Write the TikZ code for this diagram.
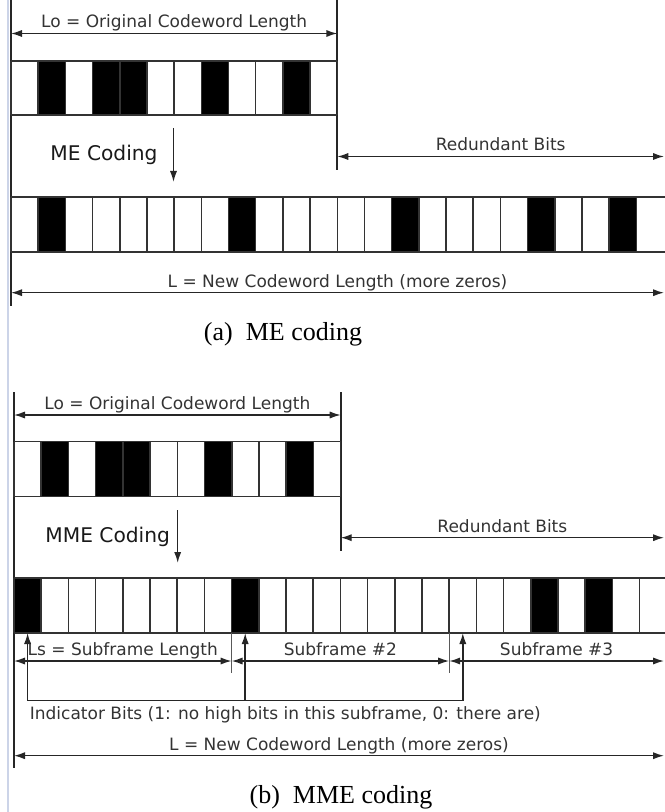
\documentclass[tikz,border=0pt]{standalone}
\usepackage{fontspec}
\setmainfont{Liberation Serif}
\setsansfont{DejaVu Sans}
\usepackage{xcolor}
\usepackage{tikz}
\usetikzlibrary{arrows.meta, positioning}
\definecolor{winedge}{RGB}{204,212,232}

\begin{document}
\begin{tikzpicture}[x=0.5pt, y=-0.5pt,
    cell/.style={black!80, line width=0.75pt},
    bar/.style={black!85, line width=0.9pt},
    tick/.style={black!65, line width=0.5pt},
    dim/.style={black!85, line width=0.7pt, {Latex[length=5.5pt,width=3.6pt]}-{Latex[length=5.5pt,width=3.6pt]}},
    push/.style={black!85, line width=0.75pt, -{Latex[length=5.5pt,width=3.6pt]}},
    txt/.style={font=\sffamily\fontsize{8.5}{10}\selectfont, text=black!80, inner sep=0pt},
    lbl/.style={txt, anchor=base, yshift=2.8pt},
    big/.style={font=\sffamily\fontsize{10.1}{12}\selectfont, text=black!90, inner sep=0pt, anchor=base west},
    captxt/.style={font=\fontsize{13}{15}\selectfont, inner sep=0pt}]
  \useasboundingbox (0,0) rectangle (664,812);
  \draw[winedge, line width=1pt] (8,0) -- (8,812);

  % (a) ME coding
  \coordinate (aTop) at (11,0);
  \coordinate (aBot) at (11,306);
  \coordinate (aMidTop) at (337.3,0);
  \coordinate (aMidBot) at (337.3,170);
  \draw[bar] (aTop) -- (aBot);
  \draw[bar] (aMidTop) -- (aMidBot);
  % original codeword
  \foreach \k in {1,3,4,7,10}
    \fill (11+\k*27.19,61) rectangle ++(27.19,54);
  \foreach \k in {0,...,12}
    \draw[cell] (11+\k*27.19,61) -- ++(0,54);
  \draw[cell] (11,61) -- (337.3,61) (11,115) -- (337.3,115);
  \coordinate (aLoW) at (11,33.5);
  \coordinate (aLoE) at (337.3,33.5);
  \draw[dim] (aLoW) -- node[lbl] (aLoTxt) {Lo = Original Codeword Length} (aLoE);
  % coding step
  \coordinate (aDnS) at (173.5,128);
  \coordinate (aDnE) at (173.5,182);
  \draw[push] (aDnS) -- (aDnE);
  \node[big] (aCode) at (50,161) {ME Coding};
  \coordinate (aRedW) at (337.3,156.5);
  \coordinate (aRedE) at (664,156.5);
  \draw[dim] (aRedW) -- node[lbl] (aRedTxt) {Redundant Bits} (aRedE);
  % new codeword
  \foreach \k in {1,8,14,19,22}
    \fill (11+\k*27.19,197) rectangle ++(27.19,55);
  \foreach \k in {0,...,23}
    \draw[cell] (11+\k*27.19,197) -- ++(0,55);
  \draw[cell] (11,197) -- (670,197) (11,252) -- (670,252);
  \coordinate (aLW) at (11,292.7);
  \coordinate (aLE) at (664,292.7);
  \draw[dim] (aLW) -- node[lbl] (aLTxt) {L = New Codeword Length (more zeros)} (aLE);
  \node[captxt] (aCap) at (283,334) {(a)~~ME coding};

  % (b) MME coding
  \coordinate (bTop) at (14,392);
  \coordinate (bBot) at (14,768);
  \coordinate (bMidTop) at (340.7,392);
  \coordinate (bMidBot) at (340.7,551);
  \draw[bar] (bTop) -- (bBot);
  \draw[bar] (bMidTop) -- (bMidBot);
  % original codeword
  \foreach \k in {1,3,4,7,10}
    \fill (14+\k*27.22,441.7) rectangle ++(27.22,55);
  \foreach \k in {0,...,12}
    \draw[cell] (14+\k*27.22,441.7) -- ++(0,55);
  \draw[cell] (14,441.7) -- (340.7,441.7) (14,496.7) -- (340.7,496.7);
  \coordinate (bLoW) at (14,415);
  \coordinate (bLoE) at (340.7,415);
  \draw[dim] (bLoW) -- node[lbl] (bLoTxt) {Lo = Original Codeword Length} (bLoE);
  % coding step
  \coordinate (bDnS) at (177.7,510);
  \coordinate (bDnE) at (177.7,563);
  \draw[push] (bDnS) -- (bDnE);
  \node[big] (bCode) at (45,542.3) {MME Coding};
  \coordinate (bRedW) at (340.7,537.7);
  \coordinate (bRedE) at (664,537.7);
  \draw[dim] (bRedW) -- node[lbl] (bRedTxt) {Redundant Bits} (bRedE);
  % new codeword, three subframes
  \foreach \k in {0,8,19,21}
    \fill (14+\k*27.2,578) rectangle ++(27.2,55);
  \foreach \k in {0,...,23}
    \draw[cell] (14+\k*27.2,578) -- ++(0,55);
  \draw[cell] (14,578) -- (670,578) (14,633) -- (670,633);
  \foreach \k in {8,16}
    \draw[tick] (14+\k*27.2,633) -- ++(0,40);
  \coordinate (bS0) at (14,661);
  \coordinate (bS1) at (231.6,661);
  \coordinate (bS2) at (449.2,661);
  \coordinate (bS3) at (664,661);
  \draw[dim] (bS0) -- node[lbl] (bS1Txt) {Ls = Subframe Length} (bS1);
  \draw[dim] (bS1) -- node[lbl] (bS2Txt) {Subframe \#2} (bS2);
  \draw[dim] (bS2) -- node[lbl] (bS3Txt) {Subframe \#3} (bS3);
  % indicator bits
  \coordinate (bI1) at (27.6,700.7);
  \coordinate (bI2) at (245.2,700.7);
  \coordinate (bI3) at (462.8,700.7);
  \coordinate (bU1) at (27.6,633);
  \coordinate (bU2) at (245.2,633);
  \coordinate (bU3) at (462.8,633);
  \draw[black!85, line width=0.75pt] (bI1) -- (bI3);
  \foreach \n in {1,2,3}
    \draw[push] (bI\n) -- (bU\n);
  \node[txt, anchor=base west] (bInd) at (29.5,719.5)
    {Indicator Bits (1: no high bits in this subframe, 0: there are)};
  \coordinate (bLW) at (14,755.7);
  \coordinate (bLE) at (664,755.7);
  \draw[dim] (bLW) -- node[lbl] (bLTxt) {L = New Codeword Length (more zeros)} (bLE);
  \node[captxt] (bCap) at (341,797) {(b)~~MME coding};
\end{tikzpicture}
\end{document}
